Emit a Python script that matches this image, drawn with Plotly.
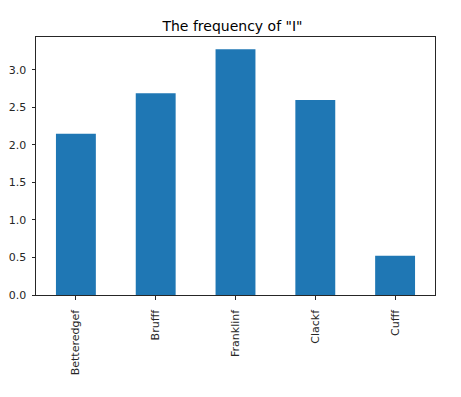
import plotly.graph_objects as go

categories = ["Betteredgef", "Brufff", "Franklinf", "Clackf", "Cufff"]
values = [2.15, 2.69, 3.275, 2.60, 0.523]
y_ticks = [0.0, 0.5, 1.0, 1.5, 2.0, 2.5, 3.0]
y_tick_labels = ["0.0", "0.5", "1.0", "1.5", "2.0", "2.5", "3.0"]

fig = go.Figure(go.Bar(x=categories, y=values, width=0.5,
                       marker=dict(color="#1f77b4", line=dict(width=0))))

font = "DejaVu Sans"
W, H = 453, 389  # page body has an 8px default margin
fig.update_layout(
    width=W, height=H,
    margin=dict(l=28, r=26, t=29, b=102),
    paper_bgcolor="white", plot_bgcolor="white",
    showlegend=False,
    title=dict(text='The frequency of "I"', x=0.4925, xanchor="center",
               xref="paper", y=1 - 18 / H, yanchor="middle", yref="container",
               font=dict(family=font, size=14, color="black")),
    font=dict(family=font, size=11, color="#262626"),
)
fig.update_xaxes(range=[-0.5, 4.5], showline=True, linecolor="#262626", linewidth=1,
                 mirror=True, ticks="outside", ticklen=3.5, tickcolor="#262626",
                 tickangle=-90, showgrid=False, zeroline=False, automargin=False,
                 ticklabelstandoff=6,
                 tickfont=dict(family=font, size=11, color="#262626"))
fig.update_yaxes(range=[0, max(values) * 1.05], showline=True, linecolor="#262626",
                 linewidth=1, mirror=True, ticks="outside", ticklen=3.5,
                 tickcolor="#262626", tickvals=y_ticks, ticktext=y_tick_labels,
                 showgrid=False, zeroline=False, automargin=False,
                 ticklabelstandoff=3,
                 tickfont=dict(family=font, size=11, color="#262626"))

fig.write_html("out.html")
